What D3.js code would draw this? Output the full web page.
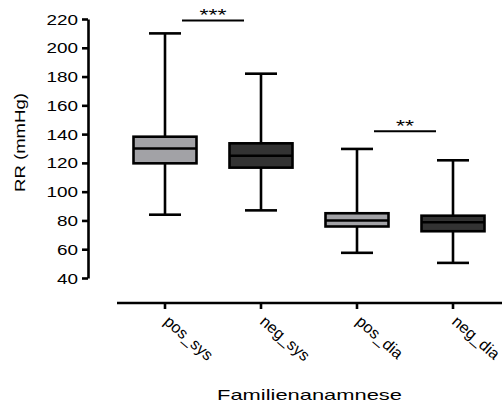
<!DOCTYPE html>
<html>
<head>
<meta charset="utf-8">
<script src="https://cdn.jsdelivr.net/npm/d3@7"></script>
<style>
  body { margin: 0; background: #fff; }
  text { font-family: Arial, "Liberation Sans", sans-serif; fill: #000; }
</style>
</head>
<body>
<div id="vis"></div>
<script>
// data
const groups = ["pos_sys", "neg_sys", "pos_dia", "neg_dia"];
const whiskerLow = [84, 87, 57.5, 50.5];
const q1 = [119.7, 116.7, 75.8, 72.5];
const median = [130, 125, 80, 78.7];
const q3 = [138.2, 133.6, 85, 83.3];
const whiskerHigh = [210, 182, 129.7, 121.8];
const fills = ["#a2a2a6", "#333333", "#a2a2a6", "#333333"];
const yTicks = [40, 60, 80, 100, 120, 140, 160, 180, 200, 220];
const sigPairs = [["pos_sys", "neg_sys"], ["pos_dia", "neg_dia"]];
const sigLevels = [219, 142];
const sigLabels = ["***", "**"];

const WIDTH = 502;
const HEIGHT = 405;

const SVG = d3.select("#vis").append("svg")
  .attr("width", WIDTH).attr("height", HEIGHT);

const escalaY = d3.scaleLinear().domain([40, 220]).range([278, 19]);
const escalaX = d3.scalePoint().domain(groups).range([165, 453]);

const boxW = 63;
const capW = 32;
const sw = 2.6;

// eje Y
const ejeY = d3.axisLeft(escalaY).tickValues(yTicks).tickSize(6).tickSizeOuter(0).tickPadding(4);
const gY = SVG.append("g").attr("transform", "translate(88,0)").call(ejeY);
gY.select(".domain").attr("stroke-width", sw);
gY.selectAll(".tick line").attr("stroke-width", sw);
gY.selectAll(".tick text")
  .style("font-size", "14px")
  .attr("font-family", null)
  .attr("dy", "0.36em")
  .each(function () {
    const l = this.getComputedTextLength();
    d3.select(this).attr("textLength", l * 1.35).attr("lengthAdjust", "spacingAndGlyphs");
  });

// eje X
SVG.append("line")
  .attr("x1", 117).attr("x2", WIDTH)
  .attr("y1", 303).attr("y2", 303)
  .attr("stroke", "#000").attr("stroke-width", sw);

SVG.selectAll(".xtick").data(groups).join("line")
  .attr("class", "xtick")
  .attr("x1", (d) => escalaX(d)).attr("x2", (d) => escalaX(d))
  .attr("y1", 303).attr("y2", 309)
  .attr("stroke", "#000").attr("stroke-width", sw);

SVG.selectAll(".xlabel").data(groups).join("text")
  .attr("class", "xlabel")
  .attr("transform", (d) => `translate(${escalaX(d) - 2},323) rotate(41)`)
  .style("font-size", "16px")
  .text((d) => d);

// cajas
const cajas = SVG.append("g");
groups.forEach((g, i) => {
  const cx = escalaX(g);
  const box = cajas.append("g");
  box.append("line")
    .attr("x1", cx).attr("x2", cx)
    .attr("y1", escalaY(whiskerHigh[i])).attr("y2", escalaY(q3[i]))
    .attr("stroke", "#000").attr("stroke-width", sw);
  box.append("line")
    .attr("x1", cx).attr("x2", cx)
    .attr("y1", escalaY(q1[i])).attr("y2", escalaY(whiskerLow[i]))
    .attr("stroke", "#000").attr("stroke-width", sw);
  [whiskerHigh[i], whiskerLow[i]].forEach((v) => {
    box.append("line")
      .attr("x1", cx - capW / 2).attr("x2", cx + capW / 2)
      .attr("y1", escalaY(v)).attr("y2", escalaY(v))
      .attr("stroke", "#000").attr("stroke-width", sw);
  });
  box.append("rect")
    .attr("x", cx - boxW / 2).attr("width", boxW)
    .attr("y", escalaY(q3[i])).attr("height", escalaY(q1[i]) - escalaY(q3[i]))
    .attr("fill", fills[i])
    .attr("stroke", "#000").attr("stroke-width", sw);
  box.append("line")
    .attr("x1", cx - boxW / 2).attr("x2", cx + boxW / 2)
    .attr("y1", escalaY(median[i])).attr("y2", escalaY(median[i]))
    .attr("stroke", "#000").attr("stroke-width", sw);
});

// significancia
sigPairs.forEach((p, i) => {
  const mid = (escalaX(p[0]) + escalaX(p[1])) / 2;
  const y = escalaY(sigLevels[i]);
  SVG.append("line")
    .attr("x1", mid - 31).attr("x2", mid + 31)
    .attr("y1", y).attr("y2", y)
    .attr("stroke", "#000").attr("stroke-width", 2);
  SVG.append("text")
    .attr("x", mid).attr("y", y + 1)
    .attr("text-anchor", "middle")
    .style("font-size", "16px")
    .attr("textLength", sigLabels[i].length * 9)
    .attr("lengthAdjust", "spacingAndGlyphs")
    .text(sigLabels[i]);
});

// titulos
SVG.append("text")
  .attr("transform", "translate(25,142.5) rotate(-90)")
  .attr("text-anchor", "middle")
  .style("font-size", "15px")
  .attr("textLength", 99).attr("lengthAdjust", "spacingAndGlyphs")
  .text("RR (mmHg)");

SVG.append("text")
  .attr("x", 309.5).attr("y", 400)
  .attr("text-anchor", "middle")
  .style("font-size", "15px")
  .attr("textLength", 185).attr("lengthAdjust", "spacingAndGlyphs")
  .text("Familienanamnese");
</script>
</body>
</html>
